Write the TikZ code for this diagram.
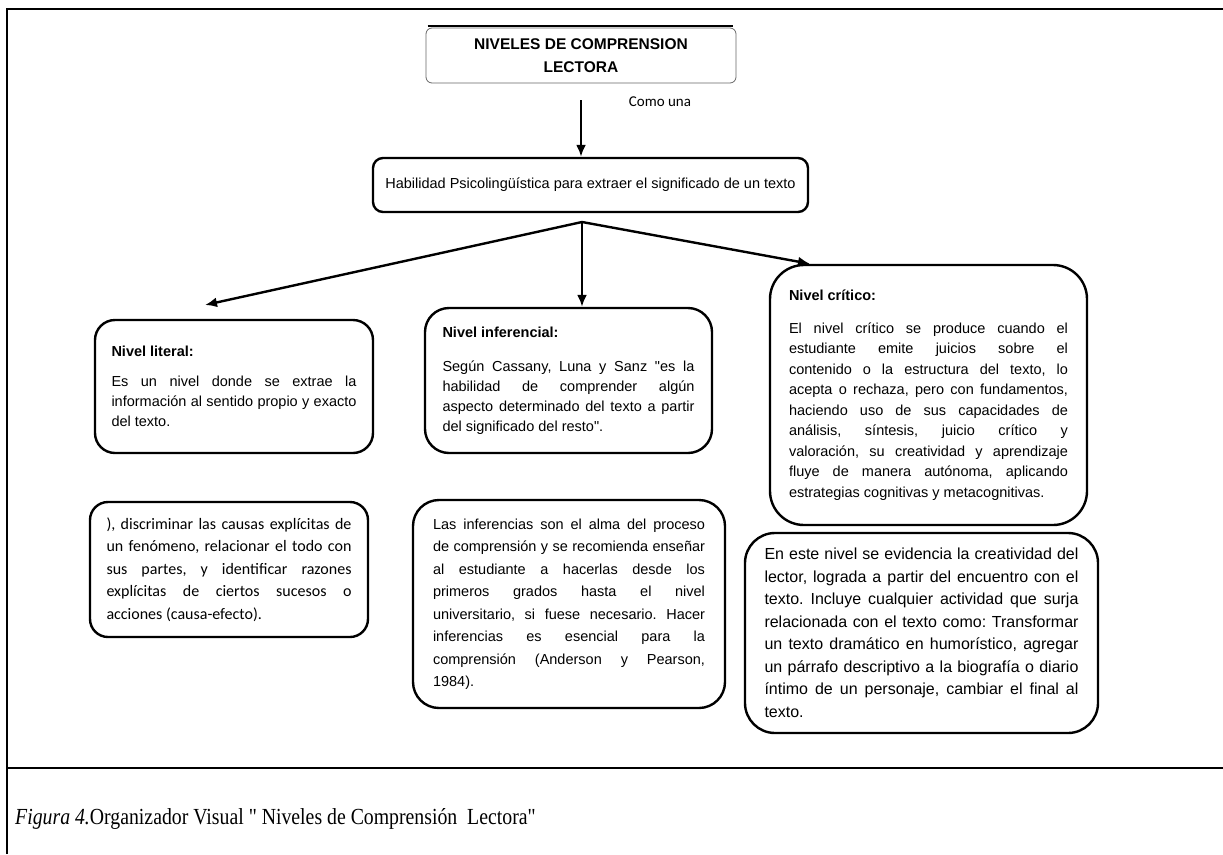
\documentclass[tikz,border=0pt]{standalone}
\usepackage{fontspec}
\usepackage{tikz}
\usetikzlibrary{arrows.meta}
\setmainfont{Liberation Sans}
\newfontfamily\arial{Liberation Sans}
\newfontfamily\calibri{Carlito}
\newfontfamily\timesf[FakeStretch=0.86]{Liberation Serif}
\tolerance=9999
\hyphenpenalty=10000
\frenchspacing

\tikzset{
	box/.style={draw, line width=2.4, rounded corners=20, align=justify, inner ysep=3,
		font=\arial\fontsize{14.5}{20}\selectfont},
	arr/.style={-{Latex[length=12,width=10]}, line width=2.4}
}

\begin{document}
\begin{tikzpicture}[x=1pt, y=-1pt]
	\useasboundingbox (0,0) rectangle (1223,854);
	\draw[line width=2.6] (7,854) -- (7,9) -- (1223,9);
	\draw[line width=2.6] (7,768) -- (1223,768);

	% cabecera
	\node[draw=black!60, line width=0.8, rounded corners=6, minimum width=310, minimum height=55,
		align=center, font=\bfseries\fontsize{15.5}{23}\selectfont] (title) at (581,55.5)
		{NIVELES DE COMPRENSION\\LECTORA};
	\draw[line width=2] ([xshift=2, yshift=2]title.north west) -- ([xshift=-3, yshift=2]title.north east);
	\node[font=\calibri\fontsize{15}{18}\selectfont] (como) at (660,102) {Como una};

	\node[box, rounded corners=10, minimum width=435, minimum height=54, align=center] (hab) at (590.5,185)
		{Habilidad Psicolingüística para extraer el significado de un texto};

	\coordinate (comotop) at (581,100);
	\draw[arr] (comotop) -- (comotop |- hab.north);

	% niveles
	\node[box, text width=245, inner xsep=16.5, minimum height=133] (lit) at (234,386.5)
		{\textbf{Nivel literal:}\\[10pt]
		Es un nivel donde se extrae la\linebreak información al sentido propio y exacto\linebreak del texto.};
	\node[box, text width=252, inner xsep=17.5, minimum height=145, rounded corners=24] (inf) at (568.5,380.5)
		{\textbf{Nivel inferencial:}\\[14pt]
		Según Cassany, Luna y Sanz "es la\linebreak habilidad de comprender algún\linebreak
		aspecto determinado del texto a partir\linebreak del significado del resto".};
	\node[box, text width=279, inner xsep=19, minimum height=260, rounded corners=34,
		font=\arial\fontsize{14.5}{20.5}\selectfont] (crit) at (928.5,395)
		{\textbf{Nivel crítico:}\\[12pt]
		El nivel crítico se produce cuando el\linebreak estudiante emite juicios sobre el\linebreak
		contenido o la estructura del texto, lo\linebreak acepta o rechaza, pero con fundamentos,\linebreak
		haciendo uso de sus capacidades de\linebreak análisis, síntesis, juicio crítico y\linebreak
		valoración, su creatividad y aprendizaje\linebreak fluye de manera autónoma, aplicando\linebreak
		estrategias cognitivas y metacognitivas.};

	% ejemplos
	\node[box, text width=245, inner xsep=16.5, minimum height=135, rounded corners=18,
		font=\calibri\fontsize{16}{22.5}\selectfont] (litx) at (229,569.5)
		{), discriminar las causas explícitas de\linebreak un fenómeno, relacionar el todo con\linebreak
		sus partes, y identificar razones\linebreak explícitas de ciertos sucesos o\linebreak
		acciones (causa-efecto).};
	\node[box, text width=272, inner xsep=20, minimum height=208, rounded corners=26,
		font=\arial\fontsize{14.5}{22.5}\selectfont] (infx) at (569,604)
		{Las inferencias son el alma del proceso\linebreak de comprensión y se recomienda enseñar\linebreak
		al estudiante a hacerlas desde los\linebreak primeros grados hasta el nivel\linebreak
		universitario, si fuese necesario. Hacer\linebreak inferencias es esencial para la\linebreak
		comprensión (Anderson y Pearson,\linebreak 1984).};
	\node[box, text width=314, inner xsep=19.5, minimum height=200, rounded corners=30,
		font=\arial\fontsize{16}{22.5}\selectfont] (critx) at (921.5,633)
		{En este nivel se evidencia la creatividad del\linebreak lector, lograda a partir del encuentro con el\linebreak
		texto. Incluye cualquier actividad que surja\linebreak relacionada con el texto como: Transformar\linebreak
		un texto dramático en humorístico, agregar\linebreak un párrafo descriptivo a la biografía o diario\linebreak
		íntimo de un personaje, cambiar el final al\linebreak texto.};

	\coordinate (split) at (582,222);
	\coordinate (litend) at (205,305);
	\coordinate (critend) at (810,0);
	\draw[arr] (split) -- (litend);
	\draw[arr] (split) -- (split |- inf.north);
	\draw[arr] (split) -- (critend |- crit.north);

	\node[anchor=west, inner sep=0, font=\timesf\fontsize{23}{26}\selectfont] (cap) at (15,819)
		{\textit{Figura 4.}Organizador Visual " Niveles de Comprensión\ \ Lectora"};
\end{tikzpicture}
\end{document}
